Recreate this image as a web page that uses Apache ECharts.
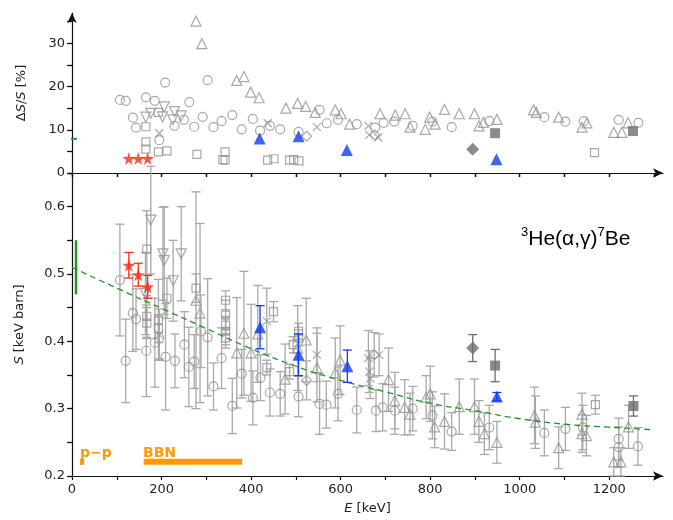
<!DOCTYPE html>
<html lang="en">
<head>
<meta charset="utf-8">
<title>3He(a,g)7Be</title>
<script src="https://cdn.jsdelivr.net/npm/echarts@6/dist/echarts.min.js"></script>
<style>html,body{margin:0;background:#fff;}</style>
</head>
<body>
<div id="chart" style="width:673px;height:520px;"></div>
<script>
// lower panel: [E keV, S keV b, error]
var circS = [[107,0.491,0.083],[120,0.371,0.062],[136,0.442,0.057],[143,0.433,0.045],[166,0.386,0.068],[185,0.398,0.066],
    [195,0.405,0.031],[209,0.377,0.079],[230,0.371,0.040],[251,0.395,0.049],[261,0.362,0.059],[273,0.370,0.040],
    [288,0.415,0.054],[303,0.406,0.087],[316,0.333,0.035],[334,0.375,0.045],[358,0.304,0.041],[379,0.352,0.036],
    [404,0.316,0.040],[421,0.346,0.034],[442,0.324,0.035],[465,0.322,0.033],[506,0.318,0.030],[553,0.307,0.045],
    [568,0.306,0.035],[594,0.322,0.040],[636,0.298,0.034],[679,0.297,0.031],[694,0.302,0.035],[721,0.297,0.035],
    [761,0.300,0.033],[805,0.290,0.035],[848,0.266,0.028],[932,0.272,0.033],[1055,0.264,0.034],[1102,0.270,0.032],
    [1141,0.272,0.033],[1221,0.255,0.031],[1221,0.243,0.030],[1264,0.244,0.028]];
var triS = [[277,0.461,0.161],[286,0.442,0.133],[368,0.383,0.082],[384,0.412,0.092],[400,0.383,0.072],[415,0.411,0.072],
    [476,0.344,0.052],[504,0.390,0.063],[523,0.402,0.062],[547,0.361,0.051],[588,0.353,0.052],[599,0.372,0.051],
    [707,0.343,0.047],[721,0.312,0.042],[743,0.302,0.041],[755,0.292,0.031],[791,0.317,0.032],[800,0.322,0.041],
    [810,0.273,0.031],[832,0.281,0.041],[865,0.303,0.041],[899,0.303,0.041],[909,0.281,0.031],[921,0.263,0.031],
    [949,0.250,0.031],[1033,0.290,0.042],[1035,0.280,0.039],[1087,0.242,0.031],[1139,0.292,0.031],[1139,0.263,0.028],
    [1149,0.260,0.030],[1210,0.221,0.021],[1226,0.221,0.021],[1243,0.273,0.032]];
var dtriS = [[164,0.471,0.061],[176,0.580,0.080],[203,0.530,0.069],[206,0.520,0.080],[226,0.490,0.060],[244,0.530,0.070]];
var sqS = [[167,0.537,0.057],[167,0.437,0.031],[167,0.427,0.023],[193,0.432,0.060],[193,0.419,0.021],[212,0.464,0.030],
    [277,0.479,0.021],[343,0.461,0.014],[343,0.439,0.022],[343,0.424,0.013],[343,0.415,0.020],[343,0.405,0.015],
    [435,0.361,0.011],[450,0.444,0.015],[486,0.355,0.011],[494,0.395,0.012],[506,0.415,0.012],[506,0.405,0.012],
    [1169,0.306,0.014]];
var crossS = [[195,0.410,0.038],[435,0.430,0.049],[547,0.380,0.040],[662,0.375,0.041],[664,0.355,0.031],[666,0.345,0.030],[686,0.380,0.031]];
var diamS = [[524,0.342,0.029],[675,0.380,0.033]];
var fdiamS = [[895,0.390,0.020]];
var fsqS = [[945,0.364,0.024],[1254,0.304,0.015]];
var blueS = [[420,0.421,0.032],[506,0.380,0.031],[615,0.363,0.024],[949,0.318,0.006]];
var starS = [[127,0.513,0.019],[148,0.499,0.017],[169,0.481,0.017]];

// upper panel: [E keV, dS/S %]
var circD = [[107,16.9],[120,16.7],[136,12.8],[143,10.5],[165,17.5],[185,16.7],[195,7.6],[208,20.9],[229,10.9],[250,12.3],
    [262,16.4],[273,10.7],[292,13.0],[303,21.5],[316,10.6],[334,12.0],[358,13.4],[379,10.1],[404,12.5],[420,9.8],
    [442,10.9],[465,10.1],[506,9.5],[553,14.6],[569,11.5],[594,12.3],[636,11.3],[677,10.5],[696,11.6],[720,11.9],
    [761,10.9],[805,11.9],[848,10.6],[932,12.0],[1055,12.9],[1102,11.9],[1143,12.0],[1221,12.3],[1265,11.6]];
var triD = [[277,35.1],[290,29.9],[368,21.4],[384,22.3],[399,18.7],[418,17.4],[478,15.0],[504,16.1],[522,15.4],[543,14.0],
    [588,14.6],[601,13.7],[620,11.3],[688,13.7],[722,13.4],[744,13.7],[755,10.6],[789,10.1],[799,12.9],[811,11.3],
    [832,14.7],[865,13.7],[899,13.7],[909,10.9],[919,11.7],[949,12.4],[1031,14.6],[1037,14.0],[1087,12.9],[1139,10.6],
    [1150,11.6],[1210,9.4],[1228,9.4],[1242,11.6]];
var dtriD = [[165,12.9],[176,13.8],[202,13.0],[206,15.3],[225,12.3],[229,14.2],[244,13.2]];
var sqD = [[165,10.7],[165,7.2],[165,5.5],[193,14.0],[193,4.9],[212,5.1],[279,4.3],[337,3.1],[342,4.9],[342,3.0],
    [437,3.0],[451,3.3],[486,3.0],[495,3.1],[507,2.8],[1167,4.7]];
var crossD = [[195,9.2],[437,11.5],[547,10.6],[662,10.9],[664,8.8],[684,8.2]];
var diamD = [[524,8.5],[676,8.8]];
var fdiamD = [[895,5.5]];
var fsqD = [[945,9.2],[1253,9.7]];
var blueD = [[419,8.0],[506,8.5],[614,5.3],[948,3.2]];
var starD = [[127,3.35],[148,3.35],[169,3.35]];

// dashed fit curve
var fitE = [0,100,200,300,400,500,600,700,800,900,1000,1100,1200,1300];
var fitS = [0.510,0.479,0.449,0.419,0.389,0.363,0.342,0.325,0.308,0.297,0.285,0.277,0.2725,0.2686];

// tick and label positions
var eTicks = [0,100,200,300,400,500,600,700,800,900,1000,1100,1200,1300];
var eLabels = [0,200,400,600,800,1000,1200];
var dTicks = [0,5,10,15,20,25,30,35];
var dLabels = [0,10,20,30];

var GRAY = '#939393', BAR = '#a9a9a9', BLUE = '#0f3cf5', RED = '#ff2a12', ORANGE = '#ff9a05', GREEN = '#1f961f';
var STAR = 'path://M50,0L61,35L98,35L68,57L79,91L50,70L21,91L32,57L2,35L39,35Z';
var CROSS = 'path://M0,0L10,10M10,0L0,10';

function errBars(data, color, z) {
    return {
        type: 'custom', xAxisIndex: 2, yAxisIndex: 2, clip: false, z: z, silent: true,
        data: data,
        renderItem: function (params, api) {
            var x = api.value(0), y = api.value(1), e = api.value(2);
            var p = api.coord([x, y + e]), q = api.coord([x, y - e]);
            var st = {stroke: color, lineWidth: 1.3};
            return {type: 'group', children: [
                {type: 'line', shape: {x1: p[0], y1: p[1], x2: q[0], y2: q[1]}, style: st},
                {type: 'line', shape: {x1: p[0] - 4.5, y1: p[1], x2: p[0] + 4.5, y2: p[1]}, style: st},
                {type: 'line', shape: {x1: q[0] - 4.5, y1: q[1], x2: q[0] + 4.5, y2: q[1]}, style: st}
            ]};
        }
    };
}

function marks(bottom, top, sym, size, rot, fill, stroke, barColor, z) {
    var hollow = fill === NONE;
    var style = {color: hollow ? NONE : fill, borderColor: stroke, borderWidth: hollow ? 1.2 : 0};
    return [
        errBars(bottom, barColor, z),
        {type: 'scatter', xAxisIndex: 2, yAxisIndex: 2, data: bottom.map(function (d) { return [d[0], d[1]]; }),
            symbol: sym, symbolSize: size, symbolRotate: rot, itemStyle: style, z: z + 1, clip: false},
        {type: 'scatter', xAxisIndex: 0, yAxisIndex: 0, data: top,
            symbol: sym, symbolSize: size, symbolRotate: rot, itemStyle: style, z: z + 1}
    ];
}

var NONE = 'rgba(0,0,0,0)';
var series = [].concat(
    marks(circS, circD, 'circle', 9, 0, NONE, GRAY, BAR, 2),
    marks(triS, triD, 'triangle', 10, 0, NONE, GRAY, BAR, 2),
    marks(dtriS, dtriD, 'triangle', 10, 180, NONE, GRAY, BAR, 2),
    marks(sqS, sqD, 'rect', 8, 0, NONE, GRAY, BAR, 2),
    marks(crossS, crossD, CROSS, 8, 0, NONE, GRAY, BAR, 2),
    marks(diamS, diamD, 'diamond', 10, 0, NONE, GRAY, BAR, 2),
    marks(fdiamS, fdiamD, 'diamond', 13, 0, '#6e6e6e', '#6e6e6e', '#6e6e6e', 5),
    marks(fsqS, fsqD, 'rect', 10, 0, '#6e6e6e', '#6e6e6e', '#6e6e6e', 5),
    marks(blueS, blueD, 'triangle', 12, 0, BLUE, BLUE, BLUE, 6),
    marks(starS, starD, STAR, 13, 0, RED, RED, RED, 6)
);
series.push(
    {type: 'line', xAxisIndex: 2, yAxisIndex: 2, data: fitE.map(function (e, i) { return [e, fitS[i]]; }),
        smooth: true, symbol: 'none', lineStyle: {color: GREEN, width: 1.3, type: [6, 4]}, z: 4},
    {type: 'line', xAxisIndex: 2, yAxisIndex: 2, data: [[9, 0.47], [9, 0.55]], symbol: 'none',
        lineStyle: {color: GREEN, width: 2.5}, z: 4},
    {type: 'line', xAxisIndex: 0, yAxisIndex: 0, data: [[-13, 7.9], [11, 7.9]], symbol: 'none', clip: false,
        lineStyle: {color: GREEN, width: 2}, z: 4},
    {type: 'line', xAxisIndex: 2, yAxisIndex: 2, data: [[18, 0.221], [27, 0.221]], symbol: 'none',
        lineStyle: {color: ORANGE, width: 6, cap: 'butt'}, z: 4},
    {type: 'line', xAxisIndex: 2, yAxisIndex: 2, data: [[160, 0.221], [380, 0.221]], symbol: 'none',
        lineStyle: {color: ORANGE, width: 6, cap: 'butt'}, z: 4}
);

var LBL = {fontFamily: 'DejaVu Sans', fontSize: 13, color: '#222'};
var AXLINE = {color: '#111', width: 1.2};
var NAMESTYLE = {rich: {i: {fontFamily: 'DejaVu Sans', fontStyle: 'italic', fontSize: 13, color: '#222'},
    n: {fontFamily: 'DejaVu Sans', fontSize: 13, color: '#222'}}};
function plain(v) { return String(v); }

function xAx(grid, main) {
    var labelled = main && grid === 1;
    return {
        type: 'value', gridIndex: grid, min: 0, max: 1320, interval: 100,
        axisLine: main ? {symbol: ['none', 'arrow'], symbolSize: [7, 10], lineStyle: AXLINE} : {show: false},
        axisTick: {inside: !main, length: 4, lineStyle: AXLINE, customValues: eTicks},
        axisLabel: labelled ? Object.assign({margin: 7, customValues: eLabels, formatter: plain}, LBL) : {show: false},
        splitLine: {show: false},
        name: labelled ? '{i|E}{n| [keV]}' : '',
        nameLocation: 'middle', nameGap: 26, nameTextStyle: NAMESTYLE
    };
}
function yAx(grid, main) {
    var top = grid === 0;
    var ax = {
        type: 'value', gridIndex: grid,
        min: top ? 0 : 0.2, max: top ? 37 : 0.65, interval: top ? 5 : 0.05,
        axisLine: main ? (top ? {symbol: ['none', 'arrow'], symbolSize: [7, 10], lineStyle: AXLINE} : {lineStyle: AXLINE}) : {show: false},
        axisTick: {inside: !main, length: main ? 5 : 3, lineStyle: AXLINE},
        axisLabel: main ? Object.assign({margin: 7}, LBL) : {show: false},
        splitLine: {show: false},
        name: main ? (top ? '{n|Δ}{i|S}{n|/}{i|S}{n| [%]}' : '{i|S}{n| [keV barn]}') : '',
        nameLocation: 'middle', nameGap: top ? 44 : 46, nameRotate: 90, nameTextStyle: NAMESTYLE
    };
    if (top) {
        ax.axisTick.customValues = dTicks;
        if (main) { ax.axisLabel.customValues = dLabels; ax.axisLabel.formatter = plain; }
    } else if (main) {
        ax.axisLabel.formatter = function (v) {
            var k = Math.round(v * 100);
            return (k % 10 === 0) ? (k / 100).toFixed(1) : '';
        };
    }
    return ax;
}

var chart = echarts.init(document.getElementById('chart'));
chart.setOption({
    animation: false,
    grid: [
        {left: 72, right: 10, top: 13, height: 160},
        {left: 72, right: 10, top: 173, height: 306}
    ],
    xAxis: [xAx(0, true), xAx(0, false), xAx(1, true), xAx(1, false)],
    yAxis: [yAx(0, true), yAx(0, false), yAx(1, true), yAx(1, false)],
    graphic: [
        {type: 'text', left: 521, top: 226, z: 10, style: {
            text: '{s|3}{m|He(α,γ)}{s|7}{m|Be}',
            rich: {
                m: {fontFamily: 'Liberation Sans', fontSize: 21, color: '#111', lineHeight: 24, verticalAlign: 'bottom'},
                s: {fontFamily: 'Liberation Sans', fontSize: 13, color: '#111', lineHeight: 24, verticalAlign: 'top'}
            }
        }},
        {type: 'text', left: 80, top: 446, z: 10, style: {text: 'p−p', fill: ORANGE, font: 'bold 14px "DejaVu Sans"'}},
        {type: 'text', left: 143, top: 446, z: 10, style: {text: 'BBN', fill: ORANGE, font: 'bold 14px "DejaVu Sans"'}}
    ],
    series: series
});
</script>
</body>
</html>
